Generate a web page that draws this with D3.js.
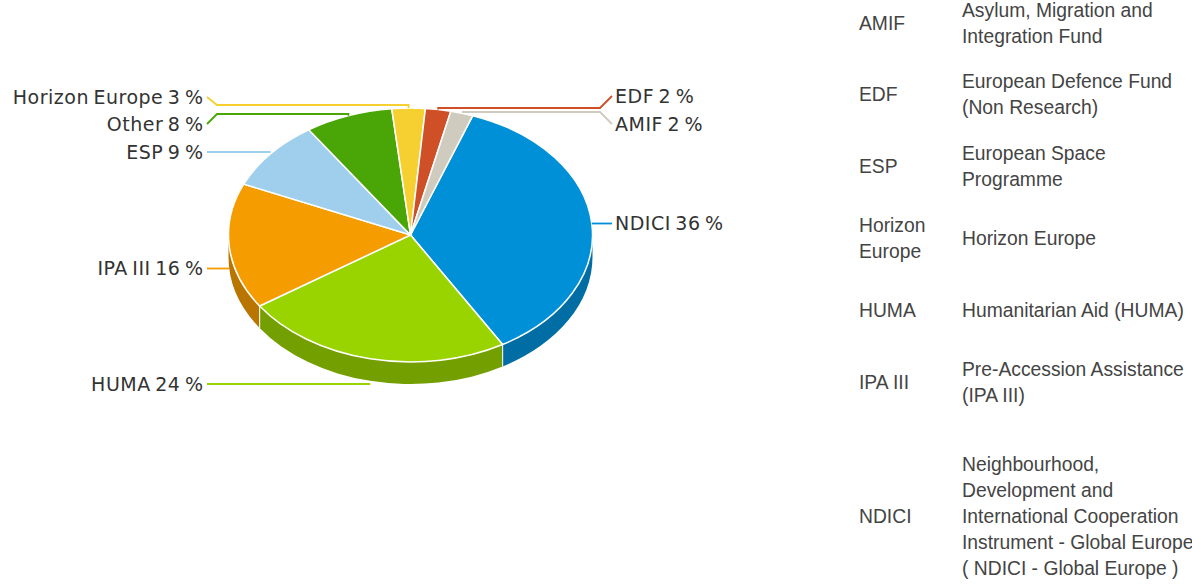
<!DOCTYPE html>
<html lang="en">
<head>
  <meta charset="utf-8">
  <title>Budget shares</title>
  <script src="https://d3js.org/d3.v7.min.js"></script>
  <style>
    html, body { margin: 0; padding: 0; background: #fff; overflow: hidden; }
    svg { display: block; }
  </style>
</head>
<body>
<script>
// slices, clockwise from the first one
var categories = ["NDICI", "HUMA", "IPA III", "ESP", "Other", "Horizon Europe", "EDF", "AMIF"];
// printed percentages
var shares = [36, 24, 16, 9, 8, 3, 2, 2];
// slice sizes, the printed ones are rounded
var sliceValues = [36, 24, 16, 9, 7.8, 2.95, 2.25, 2];
var topColors = ["#0090d7", "#9ad400", "#f59c00", "#a0cfee", "#4aa506", "#f6d031", "#cf4f27", "#cfcbbf"];
var wallColors = ["#006ea4", "#749f00", "#b87500", "#7a9eb6", "#387d04", "#bb9e25", "#9d3c1d", "#9d9a91"];

// glossary table on the right
var glossaryCodes = [["AMIF"], ["EDF"], ["ESP"], ["Horizon", "Europe"], ["HUMA"], ["IPA III"], ["NDICI"]];
var glossaryNames = [
  ["Asylum, Migration and", "Integration Fund"],
  ["European Defence Fund", "(Non Research)"],
  ["European Space", "Programme"],
  ["Horizon Europe"],
  ["Humanitarian Aid (HUMA)"],
  ["Pre-Accession Assistance", "(IPA III)"],
  ["Neighbourhood,", "Development and", "International Cooperation", "Instrument - Global Europe", "( NDICI - Global Europe )"]
];
var glossaryRowY = [23, 94, 166, 238, 310, 382, 516];

var w = 1192, h = 585;
var cx = 410.5, cy = 235, rx = 182, ry = 127, depth = 22;
var startAngle = 20 * Math.PI / 180;

var svg = d3.select("body").append("svg").attr("width", w).attr("height", h);

var pie = d3.pie().sort(null).startAngle(startAngle).endAngle(startAngle + 2 * Math.PI);
var slices = pie(sliceValues);

// point on the pie edge, angle measured clockwise from the top
function edge(a, dy) {
  return [cx + rx * Math.sin(a), cy - ry * Math.cos(a) + (dy || 0)];
}

// front wall: only the part of the rim between 90 and 270 degrees shows
var wall = svg.append("g");
slices.forEach(function(s, i) {
  var a0 = Math.max(s.startAngle, Math.PI / 2);
  var a1 = Math.min(s.endAngle, 3 * Math.PI / 2);
  if (a1 <= a0) return;
  var p0 = edge(a0), p1 = edge(a1), q0 = edge(a0, depth), q1 = edge(a1, depth);
  var d = "M" + p0 + "A" + rx + "," + ry + " 0 0 1 " + p1 +
          "L" + q1 + "A" + rx + "," + ry + " 0 0 0 " + q0 + "Z";
  wall.append("path").attr("d", d).attr("fill", wallColors[i]);
  if (s.startAngle > Math.PI / 2) {
    wall.append("line")
      .attr("x1", p0[0]).attr("y1", p0[1]).attr("x2", q0[0]).attr("y2", q0[1])
      .attr("stroke", "#e8efe0").attr("stroke-width", 1.2);
  }
});

// top face, drawn as a circle and squashed
var arc = d3.arc().innerRadius(0).outerRadius(rx);
svg.append("g")
  .attr("transform", "translate(" + cx + "," + cy + ") scale(1," + (ry / rx) + ")")
  .selectAll("path")
  .data(slices)
  .enter()
  .append("path")
  .attr("d", arc)
  .attr("fill", function(d, i) { return topColors[i]; })
  .attr("stroke", "#fff")
  .attr("stroke-width", 1.5)
  .attr("vector-effect", "non-scaling-stroke");

// leader lines and labels
var labelX = 203, rightLabelX = 615;
// label y and, for the crowded ones at the top, the y of the shelf the leader runs along
var routes = {
  "Horizon Europe": { y: 97, shelf: 105 },
  "Other": { y: 124, shelf: 114 },
  "ESP": { y: 152 },
  "HUMA": { y: 384 },
  "EDF": { y: 96, shelf: 108 },
  "AMIF": { y: 124, shelf: 112 }
};

var line = d3.line();
slices.forEach(function(s, i) {
  var name = categories[i];
  var mid = (s.startAngle + s.endAngle) / 2;
  var onFront = Math.cos(mid) < 0;
  var a = edge(mid, onFront ? depth : 0);
  var right = Math.sin(mid) > 0;
  var r = routes[name];
  var tipX = right ? rightLabelX - 3 : labelX + 4;
  var elbowX = right ? tipX - 12 : tipX + 10;
  var labelY = r ? r.y : a[1];
  var pts;
  if (r && r.shelf) {
    pts = [[tipX, r.y], [elbowX, r.shelf], [a[0], r.shelf], a];
    if (name === "AMIF") pts = [[tipX, r.y], [elbowX, r.shelf], [a[0], r.shelf]];
  } else {
    pts = [[tipX, labelY], [a[0], labelY]];
  }
  svg.append("path")
    .attr("d", line(pts))
    .attr("fill", "none")
    .attr("stroke", topColors[i])
    .attr("stroke-width", 1.8);
  svg.append("text")
    .attr("x", right ? rightLabelX : labelX + 0.5)
    .attr("y", labelY)
    .attr("dy", "0.35em")
    .attr("text-anchor", right ? "start" : "end")
    .style("font-family", "'DejaVu Sans', sans-serif")
    .style("font-size", "19px")
    .style("letter-spacing", "0.5px")
    .style("word-spacing", "-2px")
    .style("fill", "#333")
    .text(name + " " + shares[i] + " %");
});

// glossary
function block(x, yMid, lines) {
  var lh = 26;
  var t = svg.append("text")
    .style("font-family", "'Liberation Sans', Arial, sans-serif")
    .style("font-size", "19.3px")
    .style("fill", "#444");
  lines.forEach(function(l, j) {
    t.append("tspan")
      .attr("x", x)
      .attr("y", yMid + (j - (lines.length - 1) / 2) * lh)
      .attr("dy", "0.35em")
      .text(l);
  });
}
glossaryRowY.forEach(function(y, i) {
  block(859, y, glossaryCodes[i]);
  block(962, y, glossaryNames[i]);
});
</script>
</body>
</html>
